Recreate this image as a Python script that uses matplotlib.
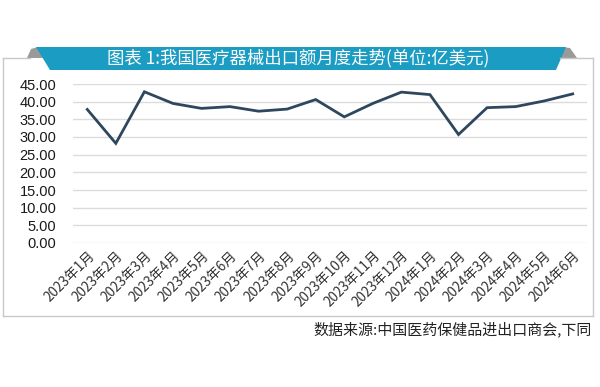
import matplotlib.pyplot as plt
from matplotlib.patches import Polygon
from matplotlib.lines import Line2D

plt.rcParams['font.family'] = ['Noto Sans CJK SC', 'DejaVu Sans']

months = ['2023年1月', '2023年2月', '2023年3月', '2023年4月', '2023年5月', '2023年6月',
          '2023年7月', '2023年8月', '2023年9月', '2023年10月', '2023年11月', '2023年12月',
          '2024年1月', '2024年2月', '2024年3月', '2024年4月', '2024年5月', '2024年6月']
export_value = [37.8, 28.2, 42.8, 39.5, 38.1, 38.6, 37.3, 37.9, 40.6,
                35.7, 39.5, 42.7, 42.0, 30.7, 38.3, 38.6, 40.2, 42.2]
yticks = [0, 5, 10, 15, 20, 25, 30, 35, 40, 45]

W, H = 600, 387
fig = plt.figure(figsize=(W / 100, H / 100), dpi=100)


def px(x, y):
    # pixel coords (top-left origin) -> figure fraction
    return (x / W, 1 - y / H)


# outer frame (top edge broken by the banner)
frame_col = '#c8c8c8'
for (x0, y0), (x1, y1) in [((3, 58), (3, 316)), ((3, 316), (593, 316)),
                           ((593, 316), (593, 58)), ((3, 58), (30, 58)),
                           ((560, 58), (593, 58))]:
    a, b = px(x0, y0)
    c, d = px(x1, y1)
    fig.add_artist(Line2D([a, c], [b, d], color=frame_col, lw=1.0,
                          transform=fig.transFigure))

# banner: grey shoulders + teal trapezoid
for pts in ([(27, 58), (31, 49), (38, 47), (44, 58)],
            [(556, 58), (562, 47), (570, 48), (577, 58)]):
    fig.add_artist(Polygon([px(*p) for p in pts], closed=True, color='#9a9a9a',
                           transform=fig.transFigure, lw=0))
fig.add_artist(Polygon([px(*p) for p in [(36, 47), (566, 47), (556, 70), (50, 70)]],
                       closed=True, color='#1b9cc2', transform=fig.transFigure, lw=0))
tx, ty = px(298, 58)
fig.text(tx, ty, '图表 1:我国医疗器械出口额月度走势(单位:亿美元)', color='white',
         fontsize=12.5, ha='center', va='center', fontweight='medium')

ax = fig.add_axes([73 / W, 1 - 243 / H, (587 - 73) / W, (243 - 84) / H])
x = range(len(months))
ax.plot(x, export_value, color='#2e475e', lw=2.0, solid_joinstyle='miter')
ax.set_xlim(-0.5, len(months) - 0.5)
ax.set_ylim(0, 45)
ax.set_yticks(yticks)
ax.set_yticklabels(['%.2f' % v for v in yticks], fontsize=10.5,
                   family=['Liberation Sans', 'DejaVu Sans'], color='#1a1a1a')
ax.set_xticks(list(x))
ax.set_xticklabels(months, rotation=45, ha='right', rotation_mode='anchor',
                   fontsize=9.8, color='#333333')
ax.tick_params(axis='both', length=0)
ax.tick_params(axis='y', pad=12)
ax.tick_params(axis='x', pad=4)
ax.grid(axis='y', color='#dcdcdc', lw=1.0)
ax.set_axisbelow(True)
for s in ax.spines.values():
    s.set_visible(False)

fx, fy = px(592, 329)
fig.text(fx, fy, '数据来源:中国医药保健品进出口商会,下同', fontsize=10.8,
         ha='right', va='center', color='#222222')

fig.savefig('out.png', dpi=100, facecolor='white')
